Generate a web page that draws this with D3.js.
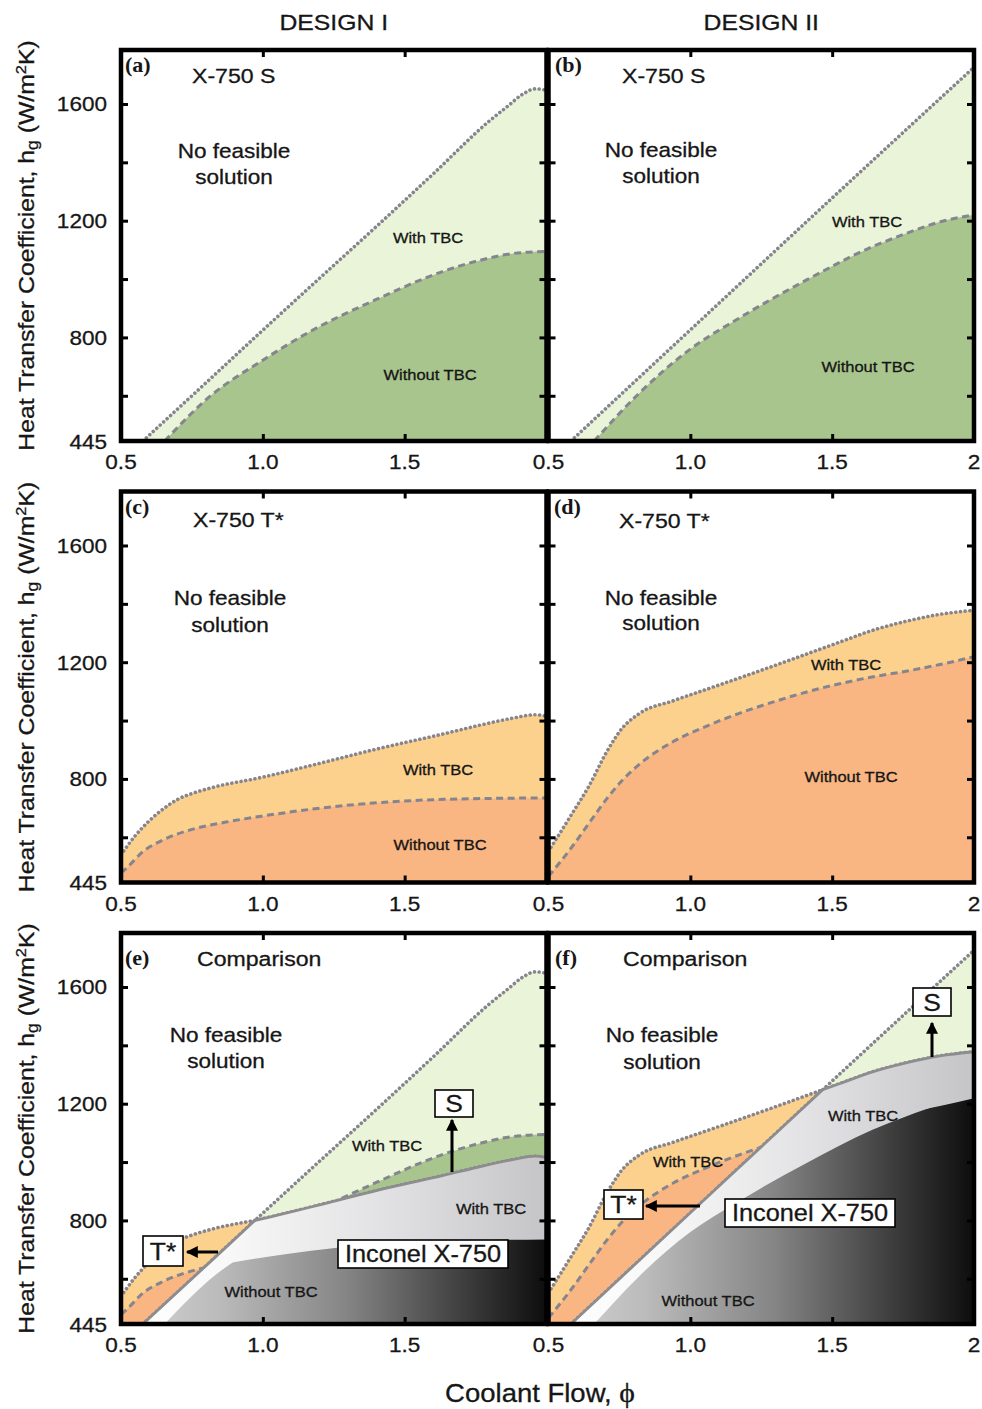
<!DOCTYPE html>
<html><head><meta charset="utf-8">
<script src="https://cdn.jsdelivr.net/npm/d3@7/dist/d3.min.js"></script>
<style>
body{margin:0;background:#fff;}
</style></head><body>
<svg id="chart" width="982" height="1409"></svg>
<script>
// ---------------- DATA (coolant flow phi, heat transfer coefficient h_g) ----------------
const xDomain = [0.5, 2.0];
const yDomain = [445, 1785];
const columnTitles = ["DESIGN I", "DESIGN II"];
const yTickLabelValues = [445, 800, 1200, 1600];
const yTickMarkValues = [600, 800, 1000, 1200, 1400, 1600];
const xTickMarkValues = [1.0, 1.5];
const xTickValuesLeft = [0.5, 1.0, 1.5];
const xTickLabelsLeft = ["0.5", "1.0", "1.5"];
const xTickValuesRight = [0.5, 1.0, 1.5, 2.0];
const xTickLabelsRight = ["0.5", "1.0", "1.5", "2"];

// Design I - stress (S) limit
const d1_S_withTBC = [[0.577,445],[0.8,645],[1.0,825],[1.2,1003],[1.4,1180],[1.6,1360],[1.8,1543],[1.86,1590],[1.92,1636],[1.96,1652],[2.0,1647]];
const d1_S_withoutTBC = [[0.654,445],[0.81,595],[1.0,722],[1.17,822],[1.4,930],[1.64,1028],[1.76,1063],[1.87,1086],[2.0,1095]];
// Design I - temperature (T*) limit
const d1_T_withTBC = [[0.5,540],[0.55,605],[0.6,657],[0.65,698],[0.7,730],[0.76,753],[0.82,770],[1.0,806],[1.17,846],[1.4,902],[1.64,955],[1.76,983],[1.88,1008],[1.96,1020],[2.0,1015]];
const d1_T_withoutTBC = [[0.5,478],[0.52,495],[0.58,553],[0.64,587],[0.75,627],[0.87,652],[1.0,673],[1.17,696],[1.4,718],[1.64,730],[2.0,735]];
// Design II - stress (S) limit
const d2_S_withTBC = [[0.579,445],[1.0,826],[1.5,1278],[2.0,1726]];
const d2_S_withoutTBC = [[0.661,445],[0.82,609],[1.0,760],[1.17,865],[1.41,997],[1.64,1110],[1.76,1156],[1.88,1196],[2.0,1220]];
// Design II - temperature (T*) limit
const d2_T_withTBC = [[0.5,552],[0.585,684],[0.644,778],[0.703,889],[0.761,975],[0.82,1024],[0.94,1068],[1.06,1108],[1.17,1145],[1.29,1186],[1.41,1228],[1.53,1270],[1.645,1310],[1.76,1340],[1.88,1364],[2.0,1378]];
const d2_T_withoutTBC = [[0.5,466],[0.585,570],[0.644,650],[0.703,729],[0.761,796],[0.82,850],[0.94,928],[1.06,982],[1.17,1024],[1.29,1063],[1.41,1098],[1.53,1127],[1.645,1150],[1.76,1169],[1.88,1192],[2.0,1219]];

const designs = [
  {S_with: d1_S_withTBC, S_without: d1_S_withoutTBC, T_with: d1_T_withTBC, T_without: d1_T_withoutTBC},
  {S_with: d2_S_withTBC, S_without: d2_S_withoutTBC, T_with: d2_T_withTBC, T_without: d2_T_withoutTBC}
];

const panels = [
  {id:"a", row:0, col:0, design:0, kind:"S",   letter:"(a)", title:"X-750 S"},
  {id:"b", row:0, col:1, design:1, kind:"S",   letter:"(b)", title:"X-750 S"},
  {id:"c", row:1, col:0, design:0, kind:"T",   letter:"(c)", title:"X-750 T*"},
  {id:"d", row:1, col:1, design:1, kind:"T",   letter:"(d)", title:"X-750 T*"},
  {id:"e", row:2, col:0, design:0, kind:"cmp", letter:"(e)", title:"Comparison"},
  {id:"f", row:2, col:1, design:1, kind:"cmp", letter:"(f)", title:"Comparison"}
];

// ---------------- LAYOUT / STYLE ----------------
const colX = [[121, 546.5], [548.5, 974]];
const rowY = [[50, 441], [491.5, 882.5], [933, 1324]];
const SANS = "'Liberation Sans', Arial, Helvetica, sans-serif";
const SERIF = "'Liberation Serif', 'Times New Roman', serif";
const SX = 1.1;
const COL = {
  lightGreen:"#eaf4d8", darkGreen:"#a8c58d", lightOrange:"#fcd18d", darkOrange:"#f9b582",
  line:"#85858f", boundary:"#8d8d8f", text:"#161616"
};
const layout = {
  a:{letter:[125,72], title:[192,83], nofeas:[234,158,184], regions:[["With TBC",428,243],["Without TBC",430,380]]},
  b:{letter:[555,72], title:[622,83], nofeas:[661,157,183], regions:[["With TBC",867,227],["Without TBC",868,372]]},
  c:{letter:[125,514], title:[193,527], nofeas:[230,605,632], regions:[["With TBC",438,775],["Without TBC",440,850]]},
  d:{letter:[554,514], title:[619,528], nofeas:[661,605,630], regions:[["With TBC",846,670],["Without TBC",851,782]]},
  e:{letter:[125,965], title:[197,966], nofeas:[226,1042,1068],
     regions:[["With TBC",387,1151],["With TBC",491,1214],["Without TBC",271,1297]],
     boxes:[{t:"Inconel X-750",x:338,y:1240,w:170,h:28,size:23},{t:"S",x:435,y:1090,w:38,h:27,size:24},{t:"T*",x:143,y:1236,w:40,h:30,size:24}],
     arrows:[[452,1172,452,1120],[218,1252,187,1252]]},
  f:{letter:[555,965], title:[623,966], nofeas:[662,1042,1069],
     regions:[["With TBC",688,1167],["With TBC",863,1121],["Without TBC",708,1306]],
     boxes:[{t:"Inconel X-750",x:725,y:1199,w:170,h:28,size:23},{t:"S",x:913,y:988,w:38,h:28,size:24},{t:"T*",x:604,y:1190,w:39,h:29,size:24}],
     arrows:[[932,1057,932,1023],[700,1206,646,1206]]}
};

// ---------------- DRAW ----------------
const svg = d3.select("#chart");
const defs = svg.append("defs");
defs.append("marker").attr("id","arrowhead").attr("viewBox","0 0 10 10")
  .attr("refX",9).attr("refY",5).attr("markerWidth",4.4).attr("markerHeight",4)
  .attr("orient","auto").attr("markerUnits","strokeWidth")
  .append("path").attr("d","M0,0 L10,5 L0,10 z").attr("fill","#000");

function makeGrad(id, x0, x1, stops){
  const lg = defs.append("linearGradient").attr("id",id).attr("gradientUnits","userSpaceOnUse")
    .attr("x1",x0).attr("x2",x1).attr("y1",0).attr("y2",0);
  stops.forEach(([o,c]) => lg.append("stop").attr("offset",o).attr("stop-color",c));
}

function txt(parent, x, y, str, o = {}){
  const size = o.size || 20, anchor = o.anchor || "start", sx = o.sx === undefined ? SX : o.sx;
  const rot = o.rotate ? ` rotate(${o.rotate})` : "";
  return parent.append("text")
    .attr("transform", `translate(${x},${y})${rot} scale(${sx},1)`)
    .attr("text-anchor", anchor).attr("font-size", size)
    .attr("font-weight", o.weight || "normal").attr("font-family", o.family || SANS)
    .attr("fill", o.fill || COL.text)
    .attr("stroke", o.weight === "bold" ? "none" : (o.fill || COL.text)).attr("stroke-width", 0.3)
    .text(str);
}

function drawPanel(p){
  const [x0, x1] = colX[p.col], [y0, y1] = rowY[p.row];
  const x = d3.scaleLinear().domain(xDomain).range([x0, x1]);
  const y = d3.scaleLinear().domain(yDomain).range([y1, y0]);
  const D = designs[p.design];
  const g = svg.append("g").attr("id", "panel-" + p.id);

  defs.append("clipPath").attr("id","clip-"+p.id).append("rect")
    .attr("x",x0).attr("y",y0).attr("width",x1-x0).attr("height",y1-y0);
  const body = g.append("g").attr("clip-path",`url(#clip-${p.id})`);

  const area = d3.area().x(d => x(d[0])).y0(y1 + 6).y1(d => y(d[1])).curve(d3.curveMonotoneX);
  const line = d3.line().x(d => x(d[0])).y(d => y(d[1])).curve(d3.curveMonotoneX);

  const dotted = sel => sel.attr("fill","none").attr("stroke",COL.line).attr("stroke-width",3.6)
      .attr("stroke-linecap","round").attr("stroke-dasharray","0.01 4.7");
  const dashed = sel => sel.attr("fill","none").attr("stroke",COL.line).attr("stroke-width",3)
      .attr("stroke-dasharray","7 4.5");

  const showS = p.kind === "S" || p.kind === "cmp";
  const showT = p.kind === "T" || p.kind === "cmp";

  if (showS){
    body.append("path").datum(D.S_with).attr("d",area).attr("fill",COL.lightGreen);
    body.append("path").datum(D.S_without).attr("d",area).attr("fill",COL.darkGreen);
  }
  if (showT){
    body.append("path").datum(D.T_with).attr("d",area).attr("fill",COL.lightOrange);
    body.append("path").datum(D.T_without).attr("d",area).attr("fill",COL.darkOrange);
  }
  if (showS){
    body.append("path").datum(D.S_with).attr("d",line).call(dotted);
    body.append("path").datum(D.S_without).attr("d",line).call(dashed);
  }
  if (showT){
    body.append("path").datum(D.T_with).attr("d",line).call(dotted);
    body.append("path").datum(D.T_without).attr("d",line).call(dashed);
  }

  if (p.kind === "cmp"){
    const mk = (name, data) => {
      defs.append("clipPath").attr("id",`under-${p.id}-${name}`).append("path").datum(data).attr("d",area);
      return `url(#under-${p.id}-${name})`;
    };
    const underTw = mk("Tw", D.T_with), underSw = mk("Sw", D.S_with), underTo = mk("To", D.T_without);
    makeGrad("light-"+p.id, x0, x1, [[0,"#ffffff"],[0.25,"#f8f8f8"],[0.6,"#e3e3e5"],[1,"#c5c5c8"]]);
    makeGrad("dark-"+p.id, x0, x1, [[0,"#d4d4d4"],[0.23,"#bbbbbb"],[0.53,"#858585"],[0.77,"#474747"],[1,"#0d0d0d"]]);
    // Inconel X-750 feasible with TBC (both S and T* satisfied)
    body.append("g").attr("clip-path",underTw).append("path").datum(D.S_with).attr("d",area).attr("fill",`url(#light-${p.id})`);
    // Inconel X-750 feasible without TBC
    body.append("g").attr("clip-path",underTo).append("path").datum(D.S_without).attr("d",area).attr("fill",`url(#dark-${p.id})`);
    // boundary of the with-TBC feasible region
    body.append("g").attr("clip-path",underTw).append("path").datum(D.S_with).attr("d",line)
      .attr("fill","none").attr("stroke",COL.boundary).attr("stroke-width",2.8);
    body.append("g").attr("clip-path",underSw).append("path").datum(D.T_with).attr("d",line)
      .attr("fill","none").attr("stroke",COL.boundary).attr("stroke-width",2.8);
  }

  // ticks (inward) via d3 axes
  const tickStyle = sel => { sel.select(".domain").remove(); sel.selectAll(".tick line").attr("stroke","#000").attr("stroke-width",3); };
  g.append("g").attr("transform",`translate(${x0},0)`).call(d3.axisLeft(y).tickValues(yTickMarkValues).tickSize(-7).tickFormat("")).call(tickStyle);
  g.append("g").attr("transform",`translate(${x1},0)`).call(d3.axisRight(y).tickValues(yTickMarkValues).tickSize(-7).tickFormat("")).call(tickStyle);
  g.append("g").attr("transform",`translate(0,${y1})`).call(d3.axisBottom(x).tickValues(xTickMarkValues).tickSize(-7).tickFormat("")).call(tickStyle);
  g.append("g").attr("transform",`translate(0,${y0})`).call(d3.axisTop(x).tickValues(xTickMarkValues).tickSize(-7).tickFormat("")).call(tickStyle);

  // frame
  g.append("rect").attr("x",x0).attr("y",y0).attr("width",x1-x0).attr("height",y1-y0)
    .attr("fill","none").attr("stroke","#000").attr("stroke-width",4.5);

  // tick labels
  const xv = p.col === 0 ? xTickValuesLeft : xTickValuesRight;
  const xl = p.col === 0 ? xTickLabelsLeft : xTickLabelsRight;
  xv.forEach((v,i) => txt(g, x(v), y1 + 28, xl[i], {size:20.5, anchor:"middle"}));
  if (p.col === 0){
    yTickLabelValues.forEach(v => txt(g, x0 - 14, y(v) + 7.5, String(v), {size:20.5, anchor:"end"}));
  }

  // annotations
  const L = layout[p.id];
  txt(g, L.letter[0], L.letter[1], p.letter, {size:21, weight:"bold", family:SERIF, sx:1.05});
  txt(g, L.title[0], L.title[1], p.title, {size:21});
  txt(g, L.nofeas[0], L.nofeas[1], "No feasible", {size:20.5, anchor:"middle"});
  txt(g, L.nofeas[0], L.nofeas[2], "solution", {size:20.5, anchor:"middle"});
  L.regions.forEach(([t,cx,by]) => txt(g, cx, by, t, {size:15, anchor:"middle"}));
  (L.arrows || []).forEach(([ax0,ay0,ax1,ay1]) => {
    g.append("line").attr("x1",ax0).attr("y1",ay0).attr("x2",ax1).attr("y2",ay1)
      .attr("stroke","#000").attr("stroke-width",3).attr("marker-end","url(#arrowhead)");
  });
  (L.boxes || []).forEach(b => {
    g.append("rect").attr("x",b.x).attr("y",b.y).attr("width",b.w).attr("height",b.h)
      .attr("fill","#fff").attr("stroke","#000").attr("stroke-width",1.6);
    txt(g, b.x + b.w/2, b.y + b.h/2 + b.size*0.36, b.t, {size:b.size, anchor:"middle"});
  });
}

panels.forEach(drawPanel);

// column titles
txt(svg, (colX[0][0]+colX[0][1])/2, 30, columnTitles[0], {size:22.5, anchor:"middle"});
txt(svg, (colX[1][0]+colX[1][1])/2, 30, columnTitles[1], {size:22.5, anchor:"middle"});

// y axis titles (one per row)
rowY.forEach(([t,b]) => {
  const cy = (t + b) / 2;
  const tx = svg.append("text")
    .attr("transform", `translate(34,${cy}) rotate(-90) scale(${SX},1)`)
    .attr("text-anchor","middle").attr("font-size",22.5).attr("font-family",SANS)
    .attr("fill",COL.text).attr("stroke",COL.text).attr("stroke-width",0.3);
  tx.append("tspan").text("Heat Transfer Coefficient, h");
  tx.append("tspan").attr("font-size",16).attr("dy",4).text("g");
  tx.append("tspan").attr("dy",-4).text(" (W/m");
  tx.append("tspan").attr("font-size",15).attr("dy",-8).text("2");
  tx.append("tspan").attr("dy",8).text("K)");
});

// x axis title
const xt = svg.append("text").attr("transform",`translate(540,1402) scale(${SX},1)`)
  .attr("text-anchor","middle").attr("font-size",25).attr("font-family",SANS)
  .attr("fill",COL.text).attr("stroke",COL.text).attr("stroke-width",0.3);
xt.append("tspan").text("Coolant Flow, ");
xt.append("tspan").attr("font-family",SERIF).attr("font-size",27).text("\u03D5");
</script>
</body></html>
